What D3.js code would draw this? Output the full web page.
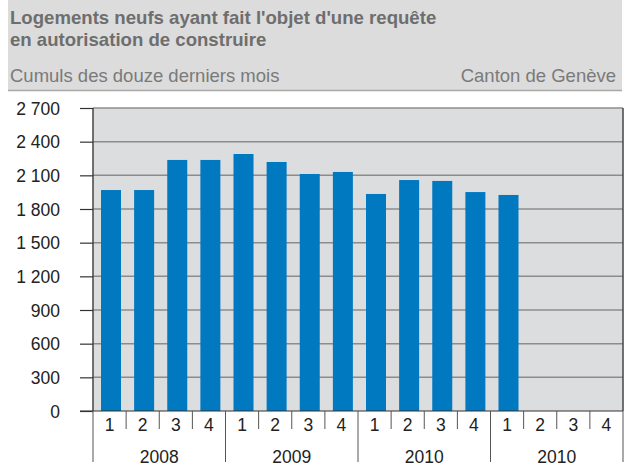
<!DOCTYPE html>
<html>
<head>
<meta charset="utf-8">
<script src="https://cdn.jsdelivr.net/npm/d3@7"></script>
<style>
  body { margin: 0; background: #fff; }
  text { font-family: "Liberation Sans", Arial, sans-serif; }
</style>
</head>
<body>
<script>
// Chart data
var quarters = ["1", "2", "3", "4", "1", "2", "3", "4", "1", "2", "3", "4", "1", "2", "3", "4"];
var years = ["2008", "2009", "2010", "2010"];
var values = [1969, 1969, 2237, 2237, 2290, 2219, 2112, 2130, 1934, 2058, 2050, 1951, 1925];
var yTicks = [0, 300, 600, 900, 1200, 1500, 1800, 2100, 2400, 2700];

var svgWidth = 628;
var svgHeight = 468;

var margin = { top: 108, right: 5, bottom: 57, left: 93 };
var chartWidth = 623 - margin.left;
var chartHeight = 411 - margin.top;

var svg = d3.select("body")
  .append("svg")
  .attr("width", svgWidth)
  .attr("height", svgHeight);

// Header band
svg.append("rect")
  .attr("x", 8).attr("y", 0)
  .attr("width", 614).attr("height", 90)
  .attr("fill", "#dcdcdc");
svg.append("line")
  .attr("x1", 8).attr("x2", 622)
  .attr("y1", 90.5).attr("y2", 90.5)
  .attr("stroke", "#a8a8a8").attr("stroke-width", 1.5);

svg.append("text")
  .attr("x", 10).attr("y", 24)
  .attr("font-size", "18.6px").attr("font-weight", "bold").attr("fill", "#6e6e6e")
  .text("Logements neufs ayant fait l'objet d'une requête");
svg.append("text")
  .attr("x", 10).attr("y", 46)
  .attr("font-size", "18.6px").attr("font-weight", "bold").attr("fill", "#6e6e6e")
  .text("en autorisation de construire");
svg.append("text")
  .attr("x", 10).attr("y", 82)
  .attr("font-size", "18.5px").attr("fill", "#7a7a7a")
  .text("Cumuls des douze derniers mois");
svg.append("text")
  .attr("x", 616).attr("y", 82)
  .attr("text-anchor", "end")
  .attr("font-size", "18.5px").attr("fill", "#7a7a7a")
  .text("Canton de Genève");

var chartGroup = svg.append("g")
  .attr("transform", `translate(${margin.left}, ${margin.top})`);

var xBandScale = d3.scaleBand()
  .domain(d3.range(quarters.length))
  .range([0, chartWidth])
  .paddingInner(0.4)
  .paddingOuter(0.2);

var slot = chartWidth / quarters.length;

var yLinearScale = d3.scaleLinear()
  .domain([0, 2700])
  .range([chartHeight, 0]);

// plot background
chartGroup.append("rect")
  .attr("width", chartWidth).attr("height", chartHeight)
  .attr("fill", "#dcdddf");

// gridlines
chartGroup.selectAll(".grid")
  .data(yTicks.filter(d => d > 0))
  .enter()
  .append("line")
  .attr("x1", 0).attr("x2", chartWidth)
  .attr("y1", d => yLinearScale(d)).attr("y2", d => yLinearScale(d))
  .attr("stroke", "#8c8c8c").attr("stroke-width", 1.5);

// bars
chartGroup.selectAll(".bar")
  .data(values)
  .enter()
  .append("rect")
  .attr("x", (d, i) => i * slot + 8)
  .attr("width", 20)
  .attr("y", d => yLinearScale(d))
  .attr("height", d => chartHeight - yLinearScale(d))
  .attr("fill", "#0079c1");

// plot side borders
chartGroup.append("line")
  .attr("x1", 0).attr("x2", 0).attr("y1", 0).attr("y2", chartHeight)
  .attr("stroke", "#444").attr("stroke-width", 1.5);
chartGroup.append("line")
  .attr("x1", chartWidth).attr("x2", chartWidth).attr("y1", 0).attr("y2", chartHeight)
  .attr("stroke", "#444").attr("stroke-width", 1.5);

// y axis
var leftAxis = d3.axisLeft(yLinearScale)
  .tickValues(yTicks)
  .tickSize(13)
  .tickPadding(20)
  .tickFormat(d => d3.format(",")(d).replace(",", " "));

var yAxis = chartGroup.append("g").call(leftAxis);
yAxis.select(".domain").remove();
yAxis.selectAll("line").attr("stroke", "#333").attr("stroke-width", 1.2);
yAxis.selectAll("text")
  .attr("font-size", "17.5px").attr("fill", "#222")
  .attr("dy", "0.35em");

// x axis baseline
chartGroup.append("line")
  .attr("x1", -13).attr("x2", chartWidth)
  .attr("y1", chartHeight).attr("y2", chartHeight)
  .attr("stroke", "#333").attr("stroke-width", 1.2);

// quarter separators and labels
var xg = chartGroup.append("g").attr("transform", `translate(0, ${chartHeight})`);
xg.selectAll(".qsep")
  .data(d3.range(quarters.length + 1))
  .enter()
  .append("line")
  .attr("x1", i => i * slot).attr("x2", i => i * slot)
  .attr("y1", 0)
  .attr("y2", i => (i % 4 === 0 ? 51 : 18))
  .attr("stroke", "#555").attr("stroke-width", 1);

xg.selectAll(".qlab")
  .data(quarters)
  .enter()
  .append("text")
  .attr("x", (d, i) => xBandScale(i) + xBandScale.bandwidth() / 2)
  .attr("y", 20)
  .attr("text-anchor", "middle")
  .attr("font-size", "17.5px").attr("fill", "#222")
  .text(d => d);

xg.selectAll(".ylab")
  .data(years)
  .enter()
  .append("text")
  .attr("x", (d, i) => (i * 4 + 2) * slot)
  .attr("y", 52)
  .attr("text-anchor", "middle")
  .attr("font-size", "17.5px").attr("fill", "#222")
  .text(d => d);
</script>
</body>
</html>
